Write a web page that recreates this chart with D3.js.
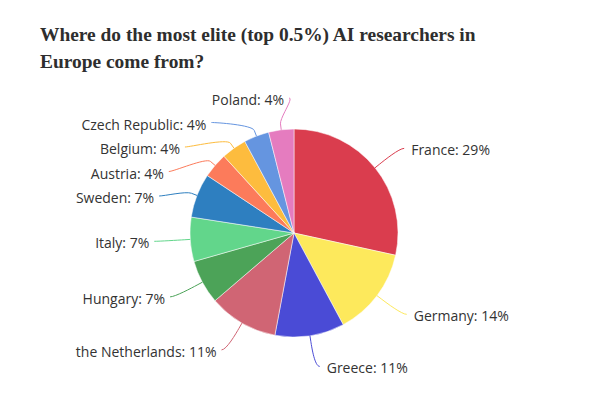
<!DOCTYPE html>
<html>
<head>
<meta charset="utf-8">
<script src="https://cdn.jsdelivr.net/npm/d3@7"></script>
<style>
  body { margin: 0; background: #fff; }
  svg { display: block; }
</style>
</head>
<body>
<div id="vis"></div>
<script>
// data
var countries = ["France", "Germany", "Greece", "the Netherlands", "Hungary", "Italy",
                 "Sweden", "Austria", "Belgium", "Czech Republic", "Poland"];
var shares    = [29, 14, 11, 11, 7, 7, 7, 4, 4, 4, 4];
var colors    = ["#da3d4e", "#fde95c", "#4a4bd6", "#d06574", "#4ca358", "#62d68b",
                 "#2e7fc0", "#fc7b5b", "#fdbc3e", "#6595e0", "#e57cbf"];
var titleLines = ["Where do the most elite (top 0.5%) AI researchers in",
                  "Europe come from?"];

var width = 592, height = 398;
var cx = 294, cy = 233, radius = 104;
var labelR = radius + 31;   // where the label ends sit
var slot = 24.5;            // min vertical gap between labels

var svg = d3.select("#vis")
  .append("svg")
  .attr("width", width)
  .attr("height", height);

////////// title //////////

var title = svg.append("g")
  .attr("class", "title");

title.selectAll("text")
  .data(titleLines)
  .enter()
  .append("text")
  .attr("x", 40)
  .attr("y", function (d, i) { return 41 + i * 27; })
  .style("font-family", "'Liberation Serif', serif")
  .style("font-weight", "bold")
  .style("font-size", "21px")
  .style("fill", "#2e2e2e")
  .text(function (d) { return d; });

// squeeze the first line to the width seen in the picture
var first = title.select("text").node();
var fs = 21 * 436 / first.getComputedTextLength();
title.selectAll("text").style("font-size", fs + "px");

////////// pie //////////

var data = countries.map(function (c, i) {
  return { name: c, value: shares[i], color: colors[i] };
});

var pie = d3.pie()
  .sort(null)
  .value(function (d) { return d.value; });

var arcs = pie(data);

var arc = d3.arc()
  .innerRadius(0)
  .outerRadius(radius);

var g = svg.append("g")
  .attr("transform", "translate(" + cx + "," + cy + ")");

g.selectAll("path.slice")
  .data(arcs)
  .enter()
  .append("path")
  .attr("class", "slice")
  .attr("d", arc)
  .style("fill", function (d) { return d.data.color; })
  .style("stroke", "#fff")
  .style("stroke-width", 0.5);

////////// labels //////////

arcs.forEach(function (d) {
  d.mid = (d.startAngle + d.endAngle) / 2;
  d.left = d.mid > Math.PI;
  d.target = -labelR * Math.cos(d.mid);   // relative to centre
});

// push labels apart on each side, keeping them inside the label circle
function distribute(items) {
  items.sort(function (a, b) { return a.target - b.target; });
  var groups = items.map(function (d) { return { items: [d] }; });
  function place(gr) {
    var n = gr.items.length;
    var mean = d3.mean(gr.items, function (d) { return d.target; });
    var top = mean - (n - 1) * slot / 2;
    top = Math.max(top, -labelR);
    top = Math.min(top, labelR - (n - 1) * slot);
    gr.top = top;
    gr.bottom = top + (n - 1) * slot;
  }
  groups.forEach(place);
  var merged = true;
  while (merged) {
    merged = false;
    for (var i = 0; i < groups.length - 1; i++) {
      if (groups[i + 1].top - groups[i].bottom < slot) {
        groups[i].items = groups[i].items.concat(groups[i + 1].items);
        groups.splice(i + 1, 1);
        place(groups[i]);
        merged = true;
        break;
      }
    }
  }
  groups.forEach(function (gr) {
    gr.items.forEach(function (d, k) { d.ly = gr.top + k * slot; });
  });
}

distribute(arcs.filter(function (d) { return !d.left; }));
distribute(arcs.filter(function (d) { return d.left; }));

arcs.forEach(function (d) {
  var s = d.left ? -1 : 1;
  var dx = Math.sqrt(Math.max(0, labelR * labelR - d.ly * d.ly));
  d.lx = s * (dx + 5);
  // slice edge and break point
  d.tx = radius * Math.sin(d.mid);
  d.ty = -radius * Math.cos(d.mid);
  d.bx = (radius + 6) * Math.sin(d.mid);
  d.by = -(radius + 6) * Math.cos(d.mid);
});

g.selectAll("path.connector")
  .data(arcs)
  .enter()
  .append("path")
  .attr("class", "connector")
  .attr("d", function (d) {
    var s = d.left ? -1 : 1;
    return "M" + d.lx + "," + d.ly +
      "C" + (d.lx - s * 5) + "," + d.ly + " " +
      (2 * d.bx - d.tx) + "," + (2 * d.by - d.ty) + " " +
      d.bx + "," + d.by +
      "L" + d.tx + "," + d.ty;
  })
  .style("fill", "none")
  .style("stroke", function (d) { return d.data.color; })
  .style("stroke-width", 1);

g.selectAll("text.label")
  .data(arcs)
  .enter()
  .append("text")
  .attr("class", "label")
  .attr("x", function (d) { return d.lx + (d.left ? -5 : 7); })
  .attr("y", function (d) { return d.ly + 7; })
  .attr("text-anchor", function (d) { return d.left ? "end" : "start"; })
  .style("font-family", "'Open Sans', sans-serif")
  .style("font-size", "14px")
  .style("fill", "#333")
  .text(function (d) { return d.data.name + ": " + d.data.value + "%"; });
</script>
</body>
</html>
